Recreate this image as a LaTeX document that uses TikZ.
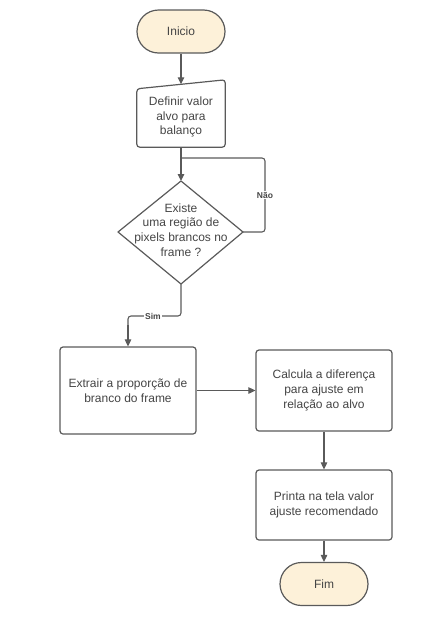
\documentclass[tikz,border=0pt]{standalone}
\usepackage{fontspec}
\setmainfont{Liberation Sans}
\usetikzlibrary{arrows.meta,calc}
\definecolor{ln}{HTML}{5A5A5A}
\definecolor{tx}{HTML}{454545}
\definecolor{termfill}{HTML}{FDF1D9}
\begin{document}
\begin{tikzpicture}[x=1pt,y=-1pt,
  every node/.style={font=\fontsize{12}{14.8}\selectfont, text=tx},
  line/.style={draw=ln, line width=1.1pt},
  arr/.style={line, -{Triangle[length=7pt,width=6.5pt]}},
  box/.style={draw=ln, line width=1.2pt, rounded corners=3pt, fill=white, align=center, inner sep=0pt, minimum width=136pt},
  term/.style={draw=ln, line width=1.2pt, rounded corners=21.5pt, fill=termfill, minimum width=88pt, minimum height=43pt, inner sep=0pt},
  lab/.style={fill=white, font=\fontsize{8.5}{10}\selectfont\bfseries, inner sep=1pt}
]
\useasboundingbox (0,0) rectangle (426,635);
% Inicio
\node[term] (ini) at (181,31.5) {Inicio};
% Definir (manual input)
\node[align=center, minimum width=88pt, minimum height=60pt, inner sep=0pt] (def) at (181,117) {Definir valor\\alvo para\\balanço};
\draw[line, line width=1.2pt, rounded corners=3pt] (def.south west) -- (def.south east) -- ($(def.north east)+(0,-7)$) -- ($(def.north west)+(0,2)$) -- cycle;
\coordinate (deftop) at ($(def.north)+(0,-2.5)$);
\draw[arr] (ini.south) -- (deftop);
% Diamond
\coordinate (qt) at (181,181);
\coordinate (qr) at (243,232);
\coordinate (qb) at (181,284);
\coordinate (ql) at (118,232);
\draw[line, line width=1.2pt, line join=round] (qt) -- (qr) -- (qb) -- (ql) -- cycle;
\node[align=center, inner sep=0pt] (q) at (181,230) {Existe\\uma região de\\pixels brancos no\\frame ?};
% loop
\coordinate (j) at (181,158);
\coordinate (lr) at (265,232);
\coordinate (lt) at (265,158);
\draw[line, rounded corners=3pt] (def.south) -- (j);
\draw[line, rounded corners=3pt] (qr) -- (lr) -- (lt) -- (j);
\draw[arr] (j) -- (qt);
\node[lab] (nao) at (265,195) {Não};
% Extrair
\node[box, minimum height=87pt] (ext) at (128,390.5) {Extrair a proporção de\\branco do frame};
\coordinate (s1) at (181,316);
\coordinate (s2) at (128,316);
\draw[line, rounded corners=3pt] (qb) -- (s1) -- (s2) -- ($(s2)+(0,10)$);
\draw[arr] ($(s2)+(0,9)$) -- (ext.north);
\node[lab] (sim) at (153,316) {Sim};
% Calcula
\node[box, minimum height=81pt] (cal) at (324,390.5) {Calcula a diferença\\para ajuste em\\relação ao alvo};
\draw[arr] (ext.east) -- (cal.west);
% Printa
\node[box, minimum height=70pt] (pri) at (324,505) {Printa na tela valor\\ajuste recomendado};
\draw[arr] (cal.south) -- (pri.north);
% Fim
\node[term] (fim) at (324,584) {Fim};
\draw[arr] (pri.south) -- (fim.north);
\end{tikzpicture}
\end{document}
